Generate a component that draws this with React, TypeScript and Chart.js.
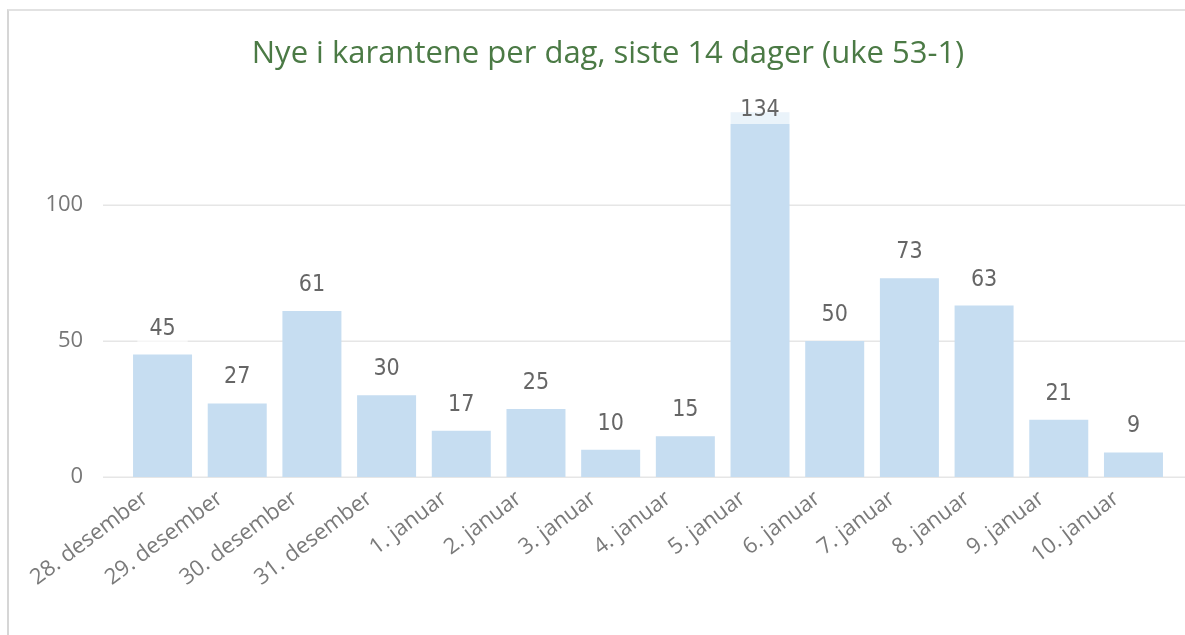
import React, { useEffect, useRef } from 'react';
import { Chart, registerables } from 'chart.js';

Chart.register(...registerables);

const chartTitle = 'Nye i karantene per dag, siste 14 dager (uke 53-1)';
const categories = [
  '28. desember', '29. desember', '30. desember', '31. desember',
  '1. januar', '2. januar', '3. januar', '4. januar', '5. januar',
  '6. januar', '7. januar', '8. januar', '9. januar', '10. januar',
];
const values = [45, 27, 61, 30, 17, 25, 10, 15, 134, 50, 73, 63, 21, 9];
const yMin = 0;
const yMax = 140;
const yStep = 50;

const W = 1185;
const H = 635;

const customPlugin = {
  id: 'pbiLook',
  beforeDatasetsDraw(chart: any) {
    const ctx = chart.ctx;
    const ys = chart.scales.y;
    ctx.save();
    ctx.strokeStyle = '#e6e6e6';
    ctx.lineWidth = 1.5;
    ys.ticks.forEach((t: any) => {
      const y = Math.round(ys.getPixelForValue(t.value)) + 0.25;
      ctx.beginPath();
      ctx.moveTo(103, y);
      ctx.lineTo(W, y);
      ctx.stroke();
    });
    ctx.restore();
  },
  afterDraw(chart: any) {
    const ctx = chart.ctx;
    const area = chart.chartArea;
    const xs = chart.scales.x;
    ctx.save();
    // title
    ctx.font = '31px "Open Sans"';
    ctx.fillStyle = '#4b7a45';
    ctx.textAlign = 'center';
    ctx.textBaseline = 'alphabetic';
    ctx.fillText(chartTitle, 608, 63);

    // data labels
    const meta = chart.getDatasetMeta(0);
    ctx.font = '500 23px "DejaVu Sans Condensed"';
    meta.data.forEach((bar: any, i: number) => {
      const txt = String(values[i]);
      let cy = bar.y - 27;
      if (cy < area.top + 13) cy = area.top + 13;
      const tw = ctx.measureText(txt).width;
      ctx.fillStyle = 'rgba(255,255,255,0.64)';
      ctx.fillRect(bar.x - tw / 2 - 12, cy - 15, tw + 24, 30);
      ctx.fillStyle = '#666666';
      ctx.textAlign = 'center';
      ctx.textBaseline = 'middle';
      ctx.fillText(txt, bar.x, cy + 1);
    });

    // x labels
    ctx.font = '22px "Open Sans"';
    ctx.fillStyle = '#7a7a7a';
    categories.forEach((c, i) => {
      const x = xs.getPixelForValue(i);
      ctx.save();
      ctx.translate(x - 17, area.bottom + 19);
      ctx.rotate((-37 * Math.PI) / 180);
      ctx.textAlign = 'right';
      ctx.textBaseline = 'middle';
      ctx.fillText(c, 0, 0);
      ctx.restore();
    });
    ctx.restore();
  },
};

export default function App() {
  const ref = useRef<HTMLCanvasElement | null>(null);
  useEffect(() => {
    if (!ref.current) return;
    const chart = new Chart(ref.current, {
      type: 'bar',
      data: {
        labels: categories,
        datasets: [
          {
            data: values,
            backgroundColor: '#c6ddf1',
            borderWidth: 0,
            barPercentage: 0.79,
            categoryPercentage: 1,
          },
        ],
      },
      options: {
        responsive: false,
        animation: false,
        devicePixelRatio: 1,
        layout: { padding: { left: 25.2, right: 14.2, top: 96, bottom: 158 } },
        plugins: {
          legend: { display: false },
          title: { display: false },
          tooltip: { enabled: false },
        },
        scales: {
          x: {
            display: false,
          },
          y: {
            min: yMin,
            max: yMax,
            ticks: {
              stepSize: yStep,
              padding: 42,
              color: '#777777',
              font: { family: '"Open Sans"', size: 22 },
            },
            grid: { display: false, drawTicks: false },
            border: { display: false },
            afterBuildTicks: (s: any) => {
              s.ticks = s.ticks.filter((t: any) => t.value % yStep === 0);
            },
            afterFit: (s: any) => {
              s.width = 100;
            },
          },
        },
      },
      plugins: [customPlugin],
    } as any);
    return () => chart.destroy();
  }, []);

  return (
    <div style={{ position: 'fixed', left: 0, top: 0, width: W, height: H, background: '#fff', overflow: 'hidden' }}>
      <div
        style={{
          position: 'absolute',
          left: 7,
          top: 9,
          width: W,
          height: H,
          borderLeft: '2px solid #d6d6d6',
          borderTop: '2px solid #e2e2e2',
        }}
      />
      <canvas ref={ref} width={W} height={H} style={{ position: 'absolute', left: 0, top: 0, display: 'block' }} />
    </div>
  );
}
